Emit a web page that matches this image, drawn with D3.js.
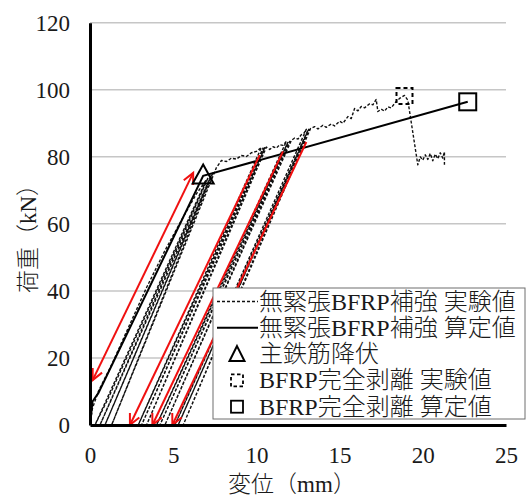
<!DOCTYPE html>
<html><head><meta charset="utf-8">
<script src="https://cdn.jsdelivr.net/npm/d3@7"></script>
<style>body{margin:0;background:#fff;} svg{display:block;}</style>
</head><body>
<svg id="c" width="528" height="497"></svg>
<script>
// ---- data ----
const xTicks = [0, 5, 10, 15, 20, 25];
const yTicks = [0, 20, 40, 60, 80, 100, 120];
const xTitle = "変位（mm）";
const yTitle = "荷重（kN）";
const legendLabels = [
  "無緊張BFRP補強 実験値",
  "無緊張BFRP補強 算定値",
  "主鉄筋降伏",
  "BFRP完全剥離 実験値",
  "BFRP完全剥離 算定値"
];
// experimental load-displacement path (mm, kN)
const expCurve = [
  [0,0],[0.15,5],[0.5,10],[1.3,18],[2.3,29],[3.4,41],[4.5,52],[5.6,62],[6.4,69],[7.0,73.2],
  [0.3,0],
  [1.1,8],[7.1,73.8],
  [0.6,0],
  [7.3,74.6],
  [0.9,0],
  [7.4,75.4],
  [1.3,0],
  [7.6,76.8],[7.9,78.9],[8.2,78.6],[8.5,79.6],[8.8,79.3],[9.1,80.4],[9.4,80.1],[9.7,81.2],[10.0,81.6],[10.3,82.8],
  [2.9,0],
  [10.4,82.6],
  [3.1,0],
  [10.5,82.7],
  [3.4,0],
  [10.6,82.9],[10.8,82.2],[11.0,83.0],[11.2,82.6],[11.4,83.6],[11.6,83.4],[11.8,84.6],
  [4.0,0],
  [11.9,84.4],
  [4.2,0],
  [12.0,84.6],
  [4.5,0],
  [12.1,84.9],[12.3,85.6],[12.5,85.3],[12.7,86.6],[12.85,87.0],[13.0,88.2],
  [5.1,0],
  [13.1,88.0],
  [5.3,0],
  [13.15,88.2],
  [5.6,0],
  [13.25,88.4],[13.5,89.0],[13.7,88.3],[14.0,89.4],[14.2,88.8],[14.5,89.8],[14.7,89.2],[15.0,90.6],
  [15.2,90.0],[15.5,92.0],[15.7,91.4],[15.9,94.4],[16.1,93.7],[16.3,95.0],[16.5,94.6],[16.8,95.8],
  [17.0,95.5],[17.2,97.1],[17.3,93.5],[17.5,94.2],[17.7,93.6],[17.9,94.9],[18.1,94.6],[18.4,96.5],
  [18.6,97.4],[18.9,98.3],[19.1,96.9],
  [19.7,77.6],[19.85,80.0],[20.0,79.0],[20.15,80.6],[20.3,79.2],[20.45,81.0],[20.6,78.8],[20.75,80.8],
  [20.9,79.4],[21.05,81.2],[21.2,79.6],[21.3,81.5],[21.3,77.6]
];
// calculated curve
const calcCurve = [[0,0],[0.15,7],[0.5,9.5],[6.8,74.3],[22.7,96.4]];
const yieldPoint = [6.8, 74.3];
const expDebond = [18.9, 98.1];
const calcDebond = [22.7, 96.4];
// red arrows: [start, end, doubleHeaded]
const redArrows = [
  [[6.2,75.2],[0.16,13.4],true],
  [[10.2,80.5],[2.4,0],false],
  [[11.6,81.6],[3.75,0],false],
  [[13.0,84.4],[4.95,0],false]
];

// ---- chart ----
const svg = d3.select("#c");
const m = {l: 90, r: 506, t: 22.7, b: 425};
const x = d3.scaleLinear().domain([0,25]).range([m.l, m.r]);
const y = d3.scaleLinear().domain([0,120]).range([m.b, m.t]);
const font = '"Liberation Serif","Noto Sans CJK JP",serif';

// gridlines
svg.append("g").selectAll("line").data(yTicks.filter(d => d > 0)).join("line")
  .attr("x1", m.l).attr("x2", m.r)
  .attr("y1", d => y(d)).attr("y2", d => y(d))
  .attr("stroke", "#c6c6c6").attr("stroke-width", 1.5);

const line = d3.line().x(d => x(d[0])).y(d => y(d[1]));

// experimental
svg.append("path").datum(expCurve).attr("d", line)
  .attr("fill", "none").attr("stroke", "#111").attr("stroke-width", 1.4)
  .attr("stroke-dasharray", "3,1.8").attr("stroke-linejoin", "round");

// calculated
svg.append("path").datum(calcCurve).attr("d", line)
  .attr("fill", "none").attr("stroke", "#000").attr("stroke-width", 2);

// red arrows
const red = "#f01010";
function head(p, q) { // tip at p, coming from q
  const dx = x(p[0]) - x(q[0]), dy = y(p[1]) - y(q[1]);
  const a = Math.atan2(dy, dx), L = 12, s = 0.45;
  const tx = x(p[0]), ty = y(p[1]);
  return `M${tx - L*Math.cos(a - s)},${ty - L*Math.sin(a - s)}L${tx},${ty}L${tx - L*Math.cos(a + s)},${ty - L*Math.sin(a + s)}`;
}
const ra = svg.append("g").attr("stroke", red).attr("stroke-width", 2).attr("fill", "none");
redArrows.forEach(([s, e, both]) => {
  ra.append("path").attr("d", line([s, e]));
  ra.append("path").attr("d", head(e, s));
  if (both) ra.append("path").attr("d", head(s, e));
});

// markers
const tri = (cx, cy, w, h) => `M${cx},${cy - h*0.6}L${cx + w/2},${cy + h*0.4}L${cx - w/2},${cy + h*0.4}Z`;
svg.append("path").attr("d", tri(x(yieldPoint[0]), y(yieldPoint[1]), 21, 19))
  .attr("fill", "none").attr("stroke", "#000").attr("stroke-width", 2);
svg.append("rect").attr("x", x(expDebond[0]) - 8).attr("y", y(expDebond[1]) - 8)
  .attr("width", 16).attr("height", 16).attr("fill", "none")
  .attr("stroke", "#000").attr("stroke-width", 2).attr("stroke-dasharray", "4,3");
svg.append("rect").attr("x", x(calcDebond[0]) - 8.5).attr("y", y(calcDebond[1]) - 8.5)
  .attr("width", 17).attr("height", 17).attr("fill", "none")
  .attr("stroke", "#000").attr("stroke-width", 2);

// legend
const lg = svg.append("g");
const lx = 213, ly = 288, lw = 312, lh = 131, rowH = 26.3, row0 = 301.5;
lg.append("rect").attr("x", lx).attr("y", ly).attr("width", lw).attr("height", lh)
  .attr("fill", "#fff").attr("stroke", "#6e6e6e").attr("stroke-width", 1);
const ry = i => row0 + i*rowH;
lg.append("line").attr("x1", 217).attr("x2", 258).attr("y1", ry(0)).attr("y2", ry(0))
  .attr("stroke", "#111").attr("stroke-width", 1.3).attr("stroke-dasharray", "3,2");
lg.append("line").attr("x1", 217).attr("x2", 258).attr("y1", ry(1)).attr("y2", ry(1))
  .attr("stroke", "#000").attr("stroke-width", 2);
lg.append("path").attr("d", tri(237, ry(2) + 1, 15, 15))
  .attr("fill", "none").attr("stroke", "#000").attr("stroke-width", 2);
lg.append("rect").attr("x", 231).attr("y", ry(3) - 6).attr("width", 12).attr("height", 12)
  .attr("fill", "none").attr("stroke", "#000").attr("stroke-width", 1.8).attr("stroke-dasharray", "3.5,2.5");
lg.append("rect").attr("x", 231).attr("y", ry(4) - 6).attr("width", 12).attr("height", 12)
  .attr("fill", "none").attr("stroke", "#000").attr("stroke-width", 1.8);
lg.selectAll("text").data(legendLabels).join("text")
  .attr("x", 259).attr("y", (d, i) => ry(i) + 8)
  .attr("font-family", font).attr("font-size", 24).attr("font-weight", 300).attr("fill", "#1a1a1a")
  .text(d => d);

// axes
const ax = svg.append("g").attr("transform", `translate(0,${m.b})`)
  .call(d3.axisBottom(x).tickValues(xTicks).tickSize(0).tickPadding(22).tickFormat(d3.format("d")));
const ay = svg.append("g").attr("transform", `translate(${m.l},0)`)
  .call(d3.axisLeft(y).tickValues(yTicks).tickSize(0).tickPadding(20).tickFormat(d3.format("d")));
[ax, ay].forEach(g => {
  g.attr("font-family", font).attr("font-size", 23);
  g.select(".domain").attr("stroke", "#000").attr("stroke-width", 3);
  g.selectAll("text").attr("font-family", font).attr("font-size", 23).attr("fill", "#1a1a1a");
});

// titles
svg.append("text").attr("x", 292).attr("y", 492).attr("text-anchor", "middle")
  .attr("font-family", font).attr("font-size", 23).attr("font-weight", 300).attr("fill", "#1a1a1a").text(xTitle);
svg.append("text").attr("transform", `translate(36,233) rotate(-90)`).attr("text-anchor", "middle")
  .attr("font-family", font).attr("font-size", 23).attr("font-weight", 300).attr("fill", "#1a1a1a").text(yTitle);
</script>
</body></html>
